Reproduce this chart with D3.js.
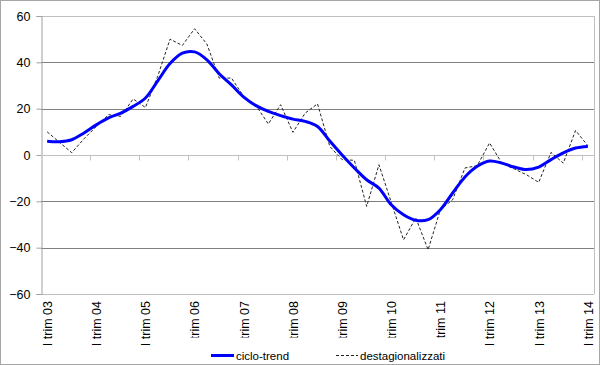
<!DOCTYPE html>
<html><head><meta charset="utf-8">
<script src="https://cdn.jsdelivr.net/npm/d3@7"></script>
<style>html,body{margin:0;padding:0;background:#fff}svg{display:block}text{font-family:"Liberation Sans",Arial,sans-serif}</style>
</head><body>
<svg id="chart" width="600" height="365"></svg>
<script>
const categories = [
"I trim 03","II trim 03","III trim 03","IV trim 03",
"I trim 04","II trim 04","III trim 04","IV trim 04",
"I trim 05","II trim 05","III trim 05","IV trim 05",
"I trim 06","II trim 06","III trim 06","IV trim 06",
"I trim 07","II trim 07","III trim 07","IV trim 07",
"I trim 08","II trim 08","III trim 08","IV trim 08",
"I trim 09","II trim 09","III trim 09","IV trim 09",
"I trim 10","II trim 10","III trim 10","IV trim 10",
"I trim 11","II trim 11","III trim 11","IV trim 11",
"I trim 12","II trim 12","III trim 12","IV trim 12",
"I trim 13","II trim 13","III trim 13","IV trim 13",
"I trim 14"];
const tickLabels = ["I trim 03","I trim 04","I trim 05","I trim 06","I trim 07","I trim 08","I trim 09","I trim 10","I trim 11","I trim 12","I trim 13","I trim 14"];
const cicloTrend = [5.9,5.7,6.6,9.5,13,16,18.1,21,24.6,32,39.5,44,44.5,41.1,35.1,30.3,25,21.3,18.8,17,15.5,14.5,12.3,6,0,-5.6,-10.7,-14.3,-21.5,-25.8,-28.2,-27.9,-23.6,-16.4,-9.5,-4.9,-2.6,-3.5,-5.2,-6.3,-5.2,-2,0.9,3,3.7];
const destagionalizzati = [10,5.5,1,7,12.3,17.4,16.7,24.2,20.5,34,50,47.3,54.5,47.9,33.2,33.2,25.3,21.3,13.4,21.7,9.8,18.1,22.1,3.7,-2,-2.3,-22.2,-4.2,-20.4,-36.6,-27.2,-40.9,-23.6,-19.3,-5.6,-4.6,5.2,-3.5,-6,-8.5,-11.8,1.1,-3.5,10.6,4.0];
const yTicks = [-60,-40,-20,0,20,40,60];
const seriesNames = ["ciclo-trend","destagionalizzati"];

const svg = d3.select("#chart");
const L = 41, R = 594, T = 16, B = 294;
const x = d3.scaleBand().domain(categories).range([L, R]).padding(0);
const y = d3.scaleLinear().domain([-60, 60]).range([B, T]);
const cx = c => x(c) + x.bandwidth() / 2;

// outer border
svg.append("rect").attr("x",0.5).attr("y",0.5).attr("width",599).attr("height",364)
  .attr("fill","#fff").attr("stroke","#a6a6a6");

// gridlines
svg.append("g").selectAll("line").data(yTicks.filter(v => v !== 0 && v !== -60)).join("line")
  .attr("x1", L).attr("x2", R)
  .attr("y1", d => Math.round(y(d)) + 0.5).attr("y2", d => Math.round(y(d)) + 0.5)
  .attr("stroke", d => d === 60 ? "#c0c0c0" : "#808080").attr("stroke-width", 1);
// plot border right/bottom
svg.append("line").attr("x1", R+0.5).attr("x2", R+0.5).attr("y1", T).attr("y2", B).attr("stroke","#c0c0c0");
svg.append("line").attr("x1", L).attr("x2", R).attr("y1", Math.round(y(-60))+0.5).attr("y2", Math.round(y(-60))+0.5).attr("stroke","#c0c0c0");

// y axis
const yAxis = d3.axisLeft(y).tickValues(yTicks).tickSize(5).tickPadding(6).tickFormat(d3.format("d"));
const gy = svg.append("g").attr("transform", `translate(${L+0.5},0)`).call(yAxis);
gy.select(".domain").attr("stroke","#a0a0a0");
gy.selectAll(".tick line").attr("stroke","#a0a0a0");
gy.selectAll(".tick text").attr("font-size","12.5px").attr("fill","#000").attr("font-family","Liberation Sans, Arial, sans-serif");

// x axis at zero (category boundaries every 4)
const y0 = Math.round(y(0)) + 0.5;
svg.append("line").attr("x1", L).attr("x2", R).attr("y1", y0).attr("y2", y0).attr("stroke","#c0c0c0");
const boundaryCats = categories.filter((c,i) => i % 4 === 0 && i > 0);
svg.append("g").selectAll("line").data(boundaryCats).join("line")
  .attr("x1", d => Math.round(x(d)) + 0.5).attr("x2", d => Math.round(x(d)) + 0.5)
  .attr("y1", y0).attr("y2", y0 + 5).attr("stroke","#c0c0c0");

// x labels (rotated)
svg.append("g").selectAll("text").data(tickLabels).join("text")
  .attr("transform", d => `translate(${cx(d)+0.5},${B+7}) rotate(-90)`)
  .attr("text-anchor","end").attr("dy","0.35em")
  .attr("font-size","12.5px").attr("fill","#000").text(d => d);

// series
const lineTrend = d3.line().x((d,i) => cx(categories[i])).y(d => y(d)).curve(d3.curveCatmullRom.alpha(0.5));
const lineDest = d3.line().x((d,i) => cx(categories[i])).y(d => y(d));
svg.append("path").datum(destagionalizzati).attr("d", lineDest).attr("fill","none")
  .attr("stroke","#222").attr("stroke-width",1).attr("stroke-dasharray","3,2");
svg.append("path").datum(cicloTrend).attr("d", lineTrend).attr("fill","none")
  .attr("stroke","#0000ff").attr("stroke-width",3).attr("stroke-linejoin","round");

// legend (white box overlapping the bottom of some labels, as in the reference)
const lg = svg.append("g");
lg.append("rect").attr("x",185).attr("y",337.5).attr("width",275).attr("height",26).attr("fill","#fff");
lg.append("line").attr("x1",211).attr("x2",234).attr("y1",355.5).attr("y2",355.5).attr("stroke","#0000ff").attr("stroke-width",3);
lg.append("text").attr("x",236).attr("y",355.5).attr("dy","0.35em").attr("font-size","11.5px").text(seriesNames[0]);
lg.append("line").attr("x1",336).attr("x2",358).attr("y1",355.5).attr("y2",355.5).attr("stroke","#222").attr("stroke-width",1).attr("stroke-dasharray","3,2");
lg.append("text").attr("x",360).attr("y",355.5).attr("dy","0.35em").attr("font-size","11.5px").text(seriesNames[1]);
</script>
</body></html>
